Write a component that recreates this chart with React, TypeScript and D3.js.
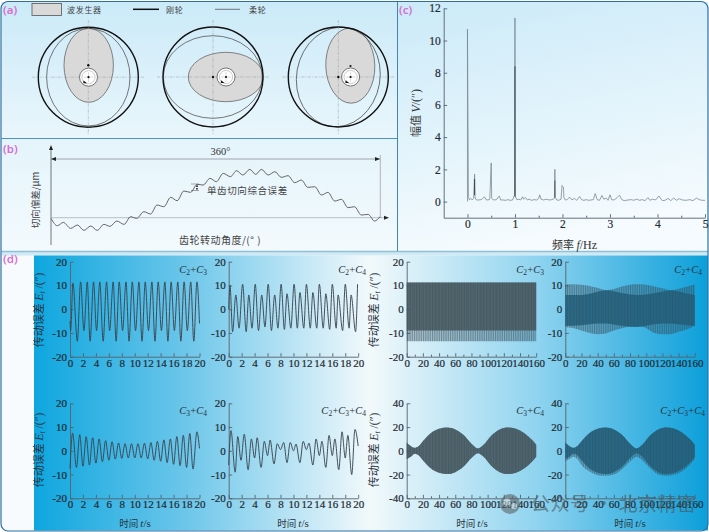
import React, { useEffect, useRef } from "react";
import * as d3 from "d3";

const panelLabels = ["(a)", "(b)", "(c)", "(d)"];
const legendNames = ["波发生器", "刚轮", "柔轮"];

// (b) tangential deviation
const tcaDeg = [0,7,13.5,21.5,29,36,43.5,50.5,58,64.5,72,80,87,93.7,101.7,109,116,123.5,131,138,145.4,152.7,160,166.5,174,181,188.4,196.4,203,210,217.5,224,230.3,237.6,245,252,259.4,266.7,274,281,288.6,296,303,310.5,317.8,325,332,339.6,347,354,360];
const tcaVal = [-0.2,-2.4,-1.4,-3.2,-2.2,-3.8,-2.5,-3.8,-2,-2.6,-1,-2,0.3,-0.2,1.8,1.1,3.8,3.3,6.1,5.1,8,7.6,10,9.8,11.8,10.8,13.3,12.3,14.1,12.8,14.5,13,14.5,12.8,13.8,12.1,12.6,10.5,11.3,9.1,9.3,6.8,7.6,5,5.5,3,3.3,0.8,1,-1,0.3];

// (c) spectrum
const specF = [0,0,0.02,0.04,0.07,0.1,0.13,0.15,0.16,0.17,0.2,0.24,0.28,0.32,0.36,0.39,0.43,0.47,0.5,0.51,0.54,0.58,0.62,0.67,0.7,0.75,0.8,0.85,0.9,0.95,0.99,1,1.01,1.04,1.08,1.12,1.16,1.18,1.22,1.26,1.3,1.35,1.4,1.46,1.5,1.52,1.55,1.6,1.66,1.72,1.78,1.83,1.84,1.85,1.88,1.92,1.97,1.99,2,2.02,2.03,2.06,2.1,2.15,2.2,2.25,2.3,2.36,2.4,2.45,2.5,2.55,2.6,2.65,2.69,2.73,2.78,2.83,2.87,2.92,2.96,3,3.04,3.1,3.15,3.2,3.25,3.3,3.38,3.45,3.5,3.56,3.62,3.68,3.74,3.8,3.84,3.9,3.96,4.03,4.1,4.16,4.22,4.28,4.34,4.4,4.46,4.52,4.6,4.68,4.75,4.82,4.88,4.94,5];
const specA = [0,10.7,0.3,0.1,0.2,0.1,0.2,1.7,0.3,0.15,0.1,0.1,0.12,0.18,0.3,0.12,0.1,0.15,2.4,0.2,0.12,0.1,0.15,0.35,0.1,0.1,0.08,0.12,0.08,0.1,0.4,11.4,0.3,0.12,0.15,0.1,0.3,0.15,0.25,0.1,0.15,0.08,0.12,0.1,0.2,0.42,0.15,0.1,0.15,0.1,0.12,0.2,2,0.25,0.1,0.08,0.15,1,0.95,0.9,0.25,0.1,0.12,0.28,0.1,0.2,0.08,0.32,0.12,0.08,0.12,0.08,0.1,0.12,0.5,0.12,0.08,0.38,0.15,0.22,0.08,0.42,0.1,0.12,0.25,0.4,0.12,0.06,0.1,0.12,0.08,0.15,0.08,0.12,0.06,0.25,0.08,0.15,0.1,0.35,0.06,0.08,0.2,0.06,0.22,0.08,0.18,0.1,0.08,0.12,0.06,0.22,0.12,0.08,0.08];
const specDarkF = [1, 1];
const specDarkA = [0.3, 8.4];
const specDark2F = [0.15, 0.15];
const specDark2A = [0.4, 1.4];
const specDark3F = [1.84, 1.84];
const specDark3A = [0.25, 1.3];
const specTicksX = [0, 1, 2, 3, 4, 5];
const specMinorX = [0.5, 1.5, 2.5, 3.5, 4.5];
const specTicksY = [0, 2, 4, 6, 8, 10, 12];

// (d) time-domain, peaks and troughs 0-20 s
const c23T = [0,0.1,0.45,1.13,1.64,2.15,2.67,3.1,3.64,4.1,4.6,5.12,5.64,6.12,6.67,7.12,7.6,8.12,8.65,9.12,9.62,10.12,10.65,11.12,11.62,12.12,12.65,13.12,13.62,14.12,14.65,15.12,15.62,16.12,16.65,17.12,17.62,18.12,18.65,19.12,19.6,20];
const c23V = [-5,-9,11,-13.5,11.5,-9,11.5,-13.5,11.5,-9,11.5,-13.5,11.5,-9,11.5,-13.5,11.5,-9,11.5,-13.5,11.5,-9,11.5,-13.5,11.5,-9,11.5,-13.5,11.5,-9,11.5,-13.5,11.5,-9,11.5,-13.5,11.5,-9,11.5,-13.5,11.5,-6];
const c24T = [0,0.2,0.6,1.1,1.6,2.15,2.7,3.1,3.6,4.1,4.6,5.1,5.6,6.1,6.6,7.1,7.6,8.1,8.6,9,9.6,10.1,10.6,11,11.6,12,12.6,13,13.6,14,14.6,15,15.6,16,16.6,16.9,17.6,18,18.6,18.9,19.6,19.9];
const c24V = [0,10,-9.5,6,-8,10.5,-9.5,6,-8,10.5,-9,6,-7.5,10.5,-9,6,-8,10.5,-8.5,6.5,-8,10.5,-8,7,-8,10.5,-8,7,-8,10.5,-8,6.5,-8.5,10.5,-8,6,-9,10.5,-8,6,-9.5,10.5];
const c34T = [0,0.4,1,1.5,2,2.5,3,3.5,4,4.5,5,5.5,6,6.5,7,7.5,8,8.5,9,9.5,10,10.5,11,11.5,12,12.5,13,13.5,14,14.5,15,15.5,16,16.5,17,17.5,18,18.5,19,19.6,20];
const c34V = [-7.5,7.5,-7,6.8,-6.5,6,-6,5.5,-5.2,5,-4.6,4.3,-4,3.8,-3.5,3.3,-3.2,3,-3,3,-3,3,-3,3.2,-3.4,3.5,-4,4,-4.4,4.6,-5,5,-5.7,6,-6.3,6.6,-7,7.3,-7.7,8,1];
const c234T = [0,0.35,1,1.4,1.9,2.4,3,3.5,4,4.4,5,5.5,6,6.4,7,7.5,8,8.5,9,9.5,10,10.4,11,11.5,12,12.4,13,13.5,14,14.4,15,15.5,16,16.4,17,17.5,18,18.4,19,19.5,20];
const c234V = [-6,8.5,-9,6,-4,7,-8,5,-3,5.5,-7,4,-2,4.5,-5.5,3,0.5,3.5,-5,3.5,0,2.8,-5,4,0.5,3.2,-6,5,-2,4,-7,6.5,-2,5,-8,8,-3,6.5,-10,9,2];

// (d) long-time envelopes, 0-160 s
const longC23T = [0, 160];
const longC23Up = [11.2, 11.2];
const longC23Lo = [-13.5, -13.5];
const longC23CoreLo = [-9, -9];
const longC24T = [0,10,20,30,40,50,60,70,80,90,100,110,120,130,140,150,160];
const longC24Up = [10.4,10.5,10.3,9.8,9,8,8.5,9.6,10.3,10.5,10.3,9.6,8.8,8,8.6,9.6,10.4];
const longC24Lo = [-7.5,-8,-9,-10,-10.5,-10.2,-9,-8,-7.3,-7,-8,-10,-10.5,-10.5,-9.5,-8.5,-7];
const longC24CoreUp = [6,6,6,6.5,7.4,8,7.6,6.8,6.2,6,6.2,6.8,7.4,8,7.5,6.6,6];
const longC24CoreLo = [-7,-7,-6.8,-6.3,-6,-6,-6.4,-7,-7.4,-7.5,-7,-6.3,-6,-6,-6.3,-6.8,-7];
const longC34T = [0,5,10,15,20,30,40,50,60,70,80,88,95,105,115,125,135,145,155,160];
const longC34Up = [7,4,2.5,4,8,15,18.5,19.6,18,13.5,6,2,5,13,18,19.6,18.5,15,9,5];
const longC34Lo = [-7,-5,-2.5,-4,-8,-15,-18.5,-19.6,-18,-13.5,-6,-2,-5,-13,-18,-19.6,-18.5,-15,-9,-5];
const longC234Lo = [-9,-7,-5,-7,-12,-17.5,-20.5,-21,-20,-15.5,-9,-5,-8,-15,-20,-21,-20,-17,-11,-7];

const timeTicks = [0,2,4,6,8,10,12,14,16,18,20];
const longTicks = [0,20,40,60,80,100,120,140,160];
const longMinor = [10,30,50,70,90,110,130,150];
const ticks20 = [-20,-10,0,10,20];
const ticks40 = [-40,-20,0,20,40];

const SERIF = "'Liberation Serif', serif";
const CJK = "'Noto Sans CJK SC', sans-serif";
const AX = "#56636b";

function Axes({ x, y, xt, xm, yt, fs = 11 }: any) {
  const ref = useRef<SVGGElement>(null);
  useEffect(() => {
    const g = d3.select(ref.current);
    g.selectAll("*").remove();
    const h = y.range()[0];
    const left = x.range()[0];
    const ax = g.append("g").attr("transform", `translate(0,${h})`)
      .call(d3.axisBottom(x).tickValues(xt).tickFormat((d: any) => String(d)).tickSizeInner(-3.5).tickSizeOuter(0).tickPadding(2));
    const ay = g.append("g").attr("transform", `translate(${left},0)`)
      .call(d3.axisLeft(y).tickValues(yt).tickFormat((d: any) => String(d)).tickSizeInner(-3.5).tickSizeOuter(0).tickPadding(3));
    if (xm) {
      const am = g.append("g").attr("transform", `translate(0,${h})`)
        .call(d3.axisBottom(x).tickValues(xm).tickFormat(() => "").tickSizeInner(-2).tickSizeOuter(0));
      am.select(".domain").remove();
      am.selectAll("line").attr("stroke", AX);
    }
    for (const a of [ax, ay]) {
      a.attr("font-family", null).attr("font-size", null);
      a.selectAll("path,line").attr("stroke", AX).attr("stroke-width", 0.9);
      a.selectAll("text")
        .style("font-family", SERIF)
        .style("font-size", `${fs}px`)
        .style("fill", "#1f2b33")
        .style("stroke", "#1f2b33")
        .style("stroke-width", "0.2px");
    }
  }, []);
  return <g ref={ref} />;
}

function CLabel({ parts, x, y }: { parts: string[]; x: number; y: number }) {
  return (
    <text x={x} y={y} textAnchor="end" fontFamily={SERIF} fontSize={10.5} fontStyle="italic" fill="#26333b">
      {parts.map((p, i) => (
        <React.Fragment key={i}>
          {i > 0 && <tspan fontStyle="normal">+</tspan>}
          <tspan>C</tspan>
          <tspan dy={2} fontSize={7.5} fontStyle="normal">{p}</tspan>
          <tspan dy={-2} fontSize={1}> </tspan>
        </React.Fragment>
      ))}
    </text>
  );
}

function YLabel({ x, y }: { x: number; y: number }) {
  return (
    <text transform={`translate(${x},${y}) rotate(-90)`} textAnchor="middle" fontFamily={CJK} fontSize={11} fill="#26333b">
      传动误差 <tspan fontFamily={SERIF} fontStyle="italic" fontSize={12}>E</tspan>
      <tspan fontFamily={SERIF} fontStyle="italic" fontSize={8} dy={2}>t</tspan>
      <tspan fontFamily={SERIF} fontSize={11.5} dy={-2}> /(″)</tspan>
    </text>
  );
}

function XLabel({ x, y }: { x: number; y: number }) {
  return (
    <text x={x} y={y} textAnchor="middle" fontFamily={CJK} fontSize={9.5} fill="#26333b">
      时间 <tspan fontFamily={SERIF} fontStyle="italic" fontSize={11}>t</tspan>
      <tspan fontFamily={SERIF} fontSize={11}>/s</tspan>
    </text>
  );
}

function Wave({ left, top, t, v, label, lx, ly }: any) {
  const x = d3.scaleLinear().domain([0, 20]).range([left, left + 129.5]);
  const y = d3.scaleLinear().domain([-20, 20]).range([top + 95, top]);
  const line = d3.line<number>().x((_, i) => x(t[i])).y((d) => y(d)).curve(d3.curveMonotoneX);
  return (
    <g>
      <Axes x={x} y={y} xt={timeTicks} yt={ticks20} />
      <path d={line(v) || ""} fill="none" stroke="#3a4750" strokeWidth={0.95} />
      <CLabel parts={label} x={lx} y={ly} />
    </g>
  );
}

function Long({ left, top, yMax, yt, t, up, lo, coreT, coreUp, coreLo, label, lx, ly, coreFill = "#46585f", coreOp = 0.85 }: any) {
  const x = d3.scaleLinear().domain([0, 160]).range([left, left + 129.5]);
  const y = d3.scaleLinear().domain([-yMax, yMax]).range([top + 95, top]);
  const area = (ts: number[], a: number[], b: number[]) =>
    d3.area<number>().x((_, i) => x(ts[i])).y0((_, i) => y(b[i])).y1((d) => y(d)).curve(d3.curveMonotoneX)(a) || "";
  return (
    <g>
      <Axes x={x} y={y} xt={longTicks} xm={longMinor} yt={yt} />
      <path d={area(t, up, lo)} fill="url(#stripes)" />
      <path d={area(coreT, coreUp, coreLo)} fill={coreFill} opacity={coreOp} />
      <path d={area(coreT, coreUp, coreLo)} fill="url(#stripes2)" />
      <CLabel parts={label} x={lx} y={ly} />
    </g>
  );
}

function Hub({ cx, cy }: { cx: number; cy: number }) {
  return (
    <g>
      <circle cx={cx} cy={cy} r={9} fill="#fff" stroke="#555" strokeWidth={0.8} />
      <circle cx={cx} cy={cy} r={6.6} fill="#fff" stroke="#999" strokeWidth={0.5} />
      <line x1={cx - 5} x2={cx + 5} y1={cy} y2={cy} stroke="#aaa" strokeWidth={0.4} />
      <line x1={cx} x2={cx} y1={cy - 5} y2={cy + 5} stroke="#aaa" strokeWidth={0.4} />
      <circle cx={cx} cy={cy} r={1.1} fill="#111" />
      <path d={`M${cx - 5},${cy + 3.2} L${cx - 1.5},${cy + 6} L${cx - 5.2},${cy + 6} Z`} fill="#111" />
    </g>
  );
}

function Wheel({ cx, cy, flex, wave, hubX, hubY, dot, cross }: any) {
  return (
    <g>
      <ellipse cx={wave[0]} cy={wave[1]} rx={wave[2]} ry={wave[3]} transform={`rotate(${wave[4]} ${wave[0]} ${wave[1]})`} fill="#d9d9d9" stroke="#666" strokeWidth={0.8} />
      <ellipse cx={flex[0]} cy={flex[1]} rx={flex[2]} ry={flex[3]} transform={`rotate(${flex[4]} ${flex[0]} ${flex[1]})`} fill="none" stroke="#555" strokeWidth={0.8} />
      <circle cx={cx} cy={cy} r={50} fill="none" stroke="#111" strokeWidth={1.4} />
      <line x1={cx - 56} x2={cx + 57} y1={cy} y2={cy} stroke="#8a8f92" strokeWidth={0.45} strokeDasharray="3 1.2 1 1.2" />
      <line x1={cx} x2={cx} y1={cy - 57} y2={cy + 57} stroke="#8a8f92" strokeWidth={0.45} strokeDasharray="3 1.2 1 1.2" />
      <Hub cx={hubX} cy={hubY} />
      <circle cx={dot[0]} cy={dot[1]} r={1.2} fill="#111" />
      {cross && <circle cx={cross[0]} cy={cross[1]} r={1.1} fill="#111" />}
    </g>
  );
}

export default function App() {
  const bx = d3.scaleLinear().domain([0, 360]).range([51, 380]);
  const by = d3.scaleLinear().domain([0, 15]).range([217.7, 167.7]);
  const tca = d3.line<number>().x((_, i) => bx(tcaDeg[i])).y((d) => by(d)).curve(d3.curveMonotoneX)(tcaVal) || "";

  const sx = d3.scaleLinear().domain([-0.5, 5]).range([443.7, 705]);
  const sy = d3.scaleLinear().domain([-1, 12]).range([217.7, 8.3]);
  const sl = (f: number[], a: number[]) => d3.line<number>().x((_, i) => sx(f[i])).y((d) => sy(d))(a) || "";

  return (
    <svg width={709} height={532} viewBox="0 0 709 532" style={{ position: "fixed", left: 0, top: 0, background: "#fff" }}>
      <defs>
        <linearGradient id="bgA" x1="0" y1="0" x2="0" y2="1">
          <stop offset="0" stopColor="#cbeaf8" />
          <stop offset="1" stopColor="#e9f6fc" />
        </linearGradient>
        <linearGradient id="bgB" x1="0" y1="0" x2="0" y2="1">
          <stop offset="0" stopColor="#e4f4fb" />
          <stop offset="1" stopColor="#f3fafd" />
        </linearGradient>
        <linearGradient id="bgC" x1="0" y1="0" x2="0.25" y2="1">
          <stop offset="0" stopColor="#cbeaf8" />
          <stop offset="1" stopColor="#f5fbfe" />
        </linearGradient>
        <linearGradient id="bgDL" x1="0" y1="0" x2="1" y2="0">
          <stop offset="0" stopColor="#0ea6df" />
          <stop offset="0.45" stopColor="#6cc6ea" />
          <stop offset="1" stopColor="#f2f9fb" />
        </linearGradient>
        <linearGradient id="bgDR" x1="0" y1="0" x2="1" y2="0">
          <stop offset="0" stopColor="#f2f9fb" />
          <stop offset="0.5" stopColor="#8ed3ef" />
          <stop offset="1" stopColor="#0c9fda" />
        </linearGradient>
        <pattern id="stripes" width={1.8} height={4} patternUnits="userSpaceOnUse">
          <rect width={1.8} height={4} fill="#3d5866" opacity={0.3} />
          <rect width={0.9} height={4} fill="#2f4653" opacity={0.45} />
        </pattern>
        <pattern id="stripes2" width={3.2} height={4} patternUnits="userSpaceOnUse">
          <rect width={1} height={4} fill="#2a3d47" opacity={0.18} />
        </pattern>
      </defs>

      <rect x={1} y={1} width={707} height={530} rx={8} fill="#f7fbfe" />
      <rect x={1.5} y={2} width={396} height={136} fill="url(#bgA)" />
      <rect x={1.5} y={139} width={396} height={112} fill="url(#bgB)" />
      <rect x={398} y={2} width={310} height={249} fill="url(#bgC)" />
      <rect x={1.5} y={251} width={706} height={4.5} fill="#cfeaf5" />
      <rect x={34} y={255.5} width={336} height={275} fill="url(#bgDL)" />
      <rect x={370} y={255.5} width={338} height={275} fill="url(#bgDR)" />

      <line x1={1.5} x2={397} y1={138.5} y2={138.5} stroke="#3a86b4" strokeWidth={0.9} />
      <line x1={1.5} x2={708} y1={251.5} y2={251.5} stroke="#8fc0d6" strokeWidth={1.4} />
      <line x1={397.5} x2={397.5} y1={2} y2={251} stroke="#2f78a8" strokeWidth={0.9} />
      <rect x={1} y={1.5} width={707} height={529.5} rx={7} fill="none" stroke="#2d6f9f" strokeWidth={1.2} />

      {/* panel labels */}
      {panelLabels.map((l, i) => (
        <text key={l} x={[3, 3, 399, 3][i]} y={[14, 153, 14, 263][i]} fontFamily="'Noto Sans', sans-serif" fontSize={11.5} fontWeight={600} fill="#d76fd2">{l}</text>
      ))}

      {/* (a) */}
      <rect x={32} y={3.5} width={29.5} height={12} fill="#d9d9d9" stroke="#555" strokeWidth={0.8} />
      <text x={67} y={13} fontFamily={CJK} fontSize={8} letterSpacing={0.7} fill="#444">{legendNames[0]}</text>
      <line x1={133} x2={159} y1={9.3} y2={9.3} stroke="#111" strokeWidth={1.5} />
      <text x={166} y={13} fontFamily={CJK} fontSize={8} letterSpacing={0.7} fill="#444">{legendNames[1]}</text>
      <line x1={215} x2={240} y1={9.3} y2={9.3} stroke="#444" strokeWidth={0.7} />
      <text x={249} y={13} fontFamily={CJK} fontSize={8} letterSpacing={0.7} fill="#444">{legendNames[2]}</text>

      <Wheel cx={88.3} cy={77.2} flex={[88.3, 77.2, 41.7, 48.8, 0]} wave={[88.7, 65.3, 24.7, 37, 0]} hubX={88.5} hubY={77.2} dot={[88.3, 65.3]} />
      <Wheel cx={213} cy={77} flex={[212.8, 77, 49.5, 41.3, 0]} wave={[225.8, 77, 37.5, 24.7, 0]} hubX={226} hubY={77} dot={[213, 77]} />
      <Wheel cx={338.3} cy={77} flex={[338.3, 77, 41.7, 50, 10]} wave={[350.3, 65.7, 24.5, 37.5, -2]} hubX={350.6} hubY={77} dot={[338.3, 77]} cross={[350.5, 66]} />

      {/* (b) */}
      <line x1={51} x2={51} y1={147} y2={245} stroke="#555" strokeWidth={0.8} />
      <path d="M51,145 L49,150 L53,150 Z" fill="#222" />
      <line x1={51} x2={386} y1={217.7} y2={217.7} stroke="#aab2b6" strokeWidth={0.8} />
      <path d="M389,217.7 L384,215.7 L384,219.7 Z" fill="#222" />
      <line x1={51} x2={380} y1={159} y2={159} stroke="#8a9297" strokeWidth={0.8} />
      <path d="M51,159 L56,157 L56,161 Z M380,159 L375,157 L375,161 Z" fill="#222" />
      <line x1={380.3} x2={380.3} y1={155} y2={218} stroke="#999" strokeWidth={0.7} />
      <text x={220.5} y={155} textAnchor="middle" fontFamily={SERIF} fontSize={10.5} fill="#333">360°</text>
      <path d={tca} fill="none" stroke="#555" strokeWidth={0.9} />
      <line x1={191} x2={199} y1={184} y2={184} stroke="#555" strokeWidth={0.5} />
      <line x1={191} x2={199} y1={190.5} y2={190.5} stroke="#555" strokeWidth={0.5} />
      <path d="M197,184 L196,187 L198,187 Z M197,190.5 L196,188 L198,188 Z" fill="#222" />
      <text x={207} y={194} fontFamily={CJK} fontSize={9.5} letterSpacing={0.6} fill="#444">单齿切向综合误差</text>
      <text transform="translate(39,200) rotate(-90)" textAnchor="middle" fontFamily={CJK} fontSize={9.5} fill="#444">切向偏差/μm</text>
      <text x={220} y={244} textAnchor="middle" fontFamily={CJK} fontSize={10} letterSpacing={0.5} fill="#444">齿轮转动角度/(°  )</text>

      {/* (c) */}
      <path d={sl(specF, specA)} fill="none" stroke="#7b8a92" strokeWidth={0.8} />
      <path d={sl(specDarkF, specDarkA)} stroke="#2e3a42" strokeWidth={0.9} fill="none" />
      <path d={sl(specDark2F, specDark2A)} stroke="#2e3a42" strokeWidth={0.9} fill="none" />
      <path d={sl(specDark3F, specDark3A)} stroke="#4a565d" strokeWidth={0.9} fill="none" />
      <Axes x={sx} y={sy} xt={specTicksX} xm={specMinorX} yt={specTicksY} fs={11.5} />
      <text transform="translate(420,113) rotate(-90)" textAnchor="middle" fontFamily={CJK} fontSize={11} fill="#333">
        幅值 <tspan fontFamily={SERIF} fontStyle="italic" fontSize={12}>V</tspan><tspan fontFamily={SERIF} fontSize={12}>/(″)</tspan>
      </text>
      <text x={574.5} y={249} textAnchor="middle" fontFamily={CJK} fontSize={11} fill="#333">
        频率 <tspan fontFamily={SERIF} fontStyle="italic" fontSize={12}>f</tspan><tspan fontFamily={SERIF} fontSize={12}>/Hz</tspan>
      </text>

      {/* (d) */}
      <Wave left={70} top={261.7} t={c23T} v={c23V} label={["2", "3"]} lx={207} ly={273} />
      <Wave left={228.7} top={261.7} t={c24T} v={c24V} label={["2", "4"]} lx={366} ly={273} />
      <Long left={406.7} top={261.7} yMax={20} yt={ticks20} t={longC23T} up={longC23Up} lo={longC23Lo} coreT={longC23T} coreUp={longC23Up} coreLo={longC23CoreLo} label={["2", "3"]} lx={544} ly={273} />
      <Long left={565.3} top={261.7} yMax={20} yt={ticks20} t={longC24T} up={longC24Up} lo={longC24Lo} coreT={longC24T} coreUp={longC24CoreUp} coreLo={longC24CoreLo} label={["2", "4"]} lx={702} ly={273} coreFill="#235f7a" coreOp={0.85} />
      <Wave left={70} top={403.3} t={c34T} v={c34V} label={["3", "4"]} lx={207} ly={414} />
      <Wave left={228.7} top={403.3} t={c234T} v={c234V} label={["2", "3", "4"]} lx={366} ly={414} />
      <Long left={406.7} top={403.3} yMax={40} yt={ticks40} t={longC34T} up={longC34Up} lo={longC34Lo} coreT={longC34T} coreUp={longC34Up} coreLo={longC34Lo} label={["3", "4"]} lx={544} ly={414} />
      <Long left={565.3} top={403.3} yMax={40} yt={ticks40} t={longC34T} up={longC34Up} lo={longC234Lo} coreT={longC34T} coreUp={longC34Up} coreLo={longC34Lo} label={["2", "3", "4"]} lx={705} ly={414} coreFill="#235f7a" coreOp={0.85} />

      <YLabel x={43} y={310} />
      <YLabel x={378} y={310} />
      <YLabel x={43} y={450} />
      <YLabel x={378} y={450} />
      <XLabel x={135} y={527} />
      <XLabel x={293} y={527} />
      <XLabel x={472} y={527} />
      <XLabel x={630} y={527} />

      {/* watermark */}
      <g opacity={0.6}>
        <circle cx={510} cy={504} r={10} fill="#5d6468" />
        <circle cx={507} cy={502} r={3.6} fill="#cdd6da" />
        <circle cx={514} cy={506} r={3} fill="#cdd6da" />
        <text x={531} y={511} fontFamily={CJK} fontSize={19} fill="#4b5357" letterSpacing={0.5}>公众号 · 北京精密</text>
      </g>
    </svg>
  );
}
